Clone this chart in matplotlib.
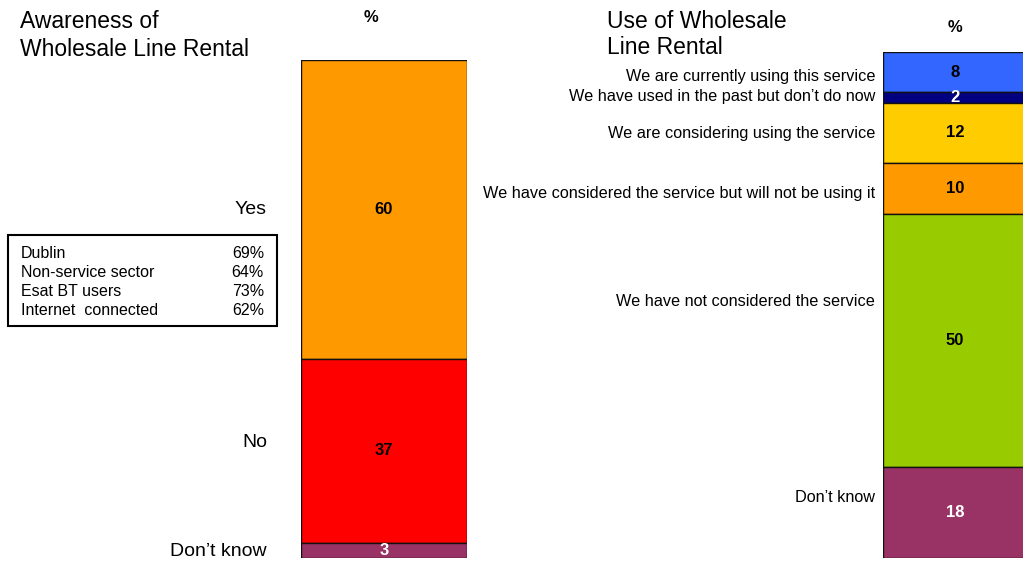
import matplotlib
matplotlib.use("Agg")
import matplotlib.pyplot as plt

plt.rcParams['font.family'] = ['Liberation Sans', 'DejaVu Sans']

# awareness of wholesale line rental (stacked, top to bottom)
aware_labels = ["Yes", "No", "Don\u2019t know"]
aware_values = [60, 37, 3]
aware_colors = ["#FF9900", "#FF0000", "#993366"]
aware_text = ["black", "black", "white"]

# use of wholesale line rental (stacked, top to bottom)
use_labels = ["We are currently using this service",
              "We have used in the past but don\u2019t do now",
              "We are considering using the service",
              "We have considered the service but will not be using it",
              "We have not considered the service",
              "Don\u2019t know"]
use_values = [8, 2, 12, 10, 50, 18]
use_colors = ["#3366FF", "#000080", "#FFCC00", "#FF9900", "#99CC00", "#993366"]
use_text = ["black", "white", "black", "black", "black", "white"]

# sub-group awareness box
sub_groups = ["Dublin", "Non-service sector", "Esat BT users", "Internet  connected"]
sub_pct = [69, 64, 73, 62]

W, H = 1023, 563
fig = plt.figure(figsize=(W / 100, H / 100), dpi=100)


def px_axes(x0, y0, x1, y1):
    return fig.add_axes([x0 / W, 1 - y1 / H, (x1 - x0) / W, (y1 - y0) / H])


def stacked(ax, values, colors, tcolors, labels, label_dx, label_dy, label_size):
    bottom = 0
    for v, c, tc, lab, dy in zip(values, colors, tcolors, labels, label_dy):
        ax.bar(0.5, v, width=1, bottom=bottom, color=c, edgecolor="#111111",
               linewidth=1.0)
        mid = bottom + v / 2
        ax.text(0.5, mid, str(v), ha="center", va="center", fontsize=12,
                fontweight="bold", color=tc)
        ax.annotate(lab, xy=(0, mid), xytext=(label_dx, dy),
                    textcoords="offset pixels", ha="right", va="center",
                    fontsize=label_size, annotation_clip=False)
        bottom += v
    ax.set_xlim(0, 1)
    ax.set_ylim(sum(values), 0)
    ax.axis("off")


ax1 = px_axes(301, 60, 467, 558)
stacked(ax1, aware_values, aware_colors, aware_text, aware_labels, -34, [0, 8, -1], 14)

ax2 = px_axes(883, 52, 1027, 558)
stacked(ax2, use_values, use_colors, use_text, use_labels, -8,
        [-4, 1, -1, -5, 39, 15], 11.7)

# titles and % headers
fig.text(20 / W, 1 - 22 / H, "Awareness of", fontsize=16.5, va="center")
fig.text(20 / W, 1 - 50 / H, "Wholesale Line Rental", fontsize=16.5, va="center")
fig.text(607 / W, 1 - 22 / H, "Use of Wholesale", fontsize=16.5, va="center")
fig.text(607 / W, 1 - 48 / H, "Line Rental", fontsize=16.5, va="center")
fig.text(371 / W, 1 - 17 / H, "%", fontsize=12, fontweight="bold", ha="center", va="center")
fig.text(955 / W, 1 - 27 / H, "%", fontsize=12, fontweight="bold", ha="center", va="center")

# box with sub-group figures
box = plt.Rectangle((8 / W, 1 - 326 / H), 269 / W, 91 / H, transform=fig.transFigure,
                    fill=False, edgecolor="black", linewidth=1.5)
fig.add_artist(box)
for i, (g, p) in enumerate(zip(sub_groups, sub_pct)):
    y = 1 - (253 + i * 19.3) / H
    fig.text(21 / W, y, g, fontsize=11.5, va="center")
    fig.text(264 / W, y, f"{p}%", fontsize=11.5, va="center", ha="right")

fig.savefig("out.png", dpi=100)
